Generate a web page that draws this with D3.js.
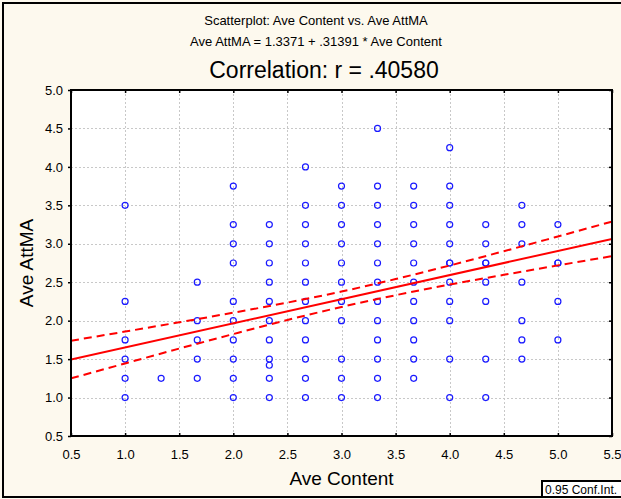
<!DOCTYPE html>
<html><head><meta charset="utf-8">
<script src="https://cdn.jsdelivr.net/npm/d3@7/dist/d3.min.js"></script>
<style>
html,body{margin:0;padding:0;background:#fdf9ee;}
svg{display:block;font-family:"Liberation Sans",Arial,sans-serif;}
</style></head>
<body>
<svg id="chart" width="621" height="499"></svg>
<script>
// ---- data ----
const titleLines = ["Scatterplot: Ave Content vs. Ave AttMA", "Ave AttMA = 1.3371 + .31391 * Ave Content"];
const corrTitle = "Correlation: r = .40580";
const xLabel = "Ave Content";
const yLabel = "Ave AttMA";
const legendText = "0.95 Conf.Int.";
const xTicks = [0.5,1.0,1.5,2.0,2.5,3.0,3.5,4.0,4.5,5.0,5.5];
const yTicks = [0.5,1.0,1.5,2.0,2.5,3.0,3.5,4.0,4.5,5.0];
const intercept = 1.3371, slope = 0.31391;
// scatter points: x (Ave Content) and y (Ave AttMA)
const ptX = [
 1,1,1,1,1,1,
 1.333,
 1.667,1.667,1.667,1.667,1.667,
 2,2,2,2,2,2,2,2,2,2,
 2.333,2.333,2.333,2.333,2.333,2.333,2.333,2.333,2.333,2.333,2.333,
 2.667,2.667,2.667,2.667,2.667,2.667,2.667,2.667,2.667,2.667,2.667,2.667,
 3,3,3,3,3,3,3,3,3,3,3,
 3.333,3.333,3.333,3.333,3.333,3.333,3.333,3.333,3.333,3.333,3.333,3.333,3.333,
 3.667,3.667,3.667,3.667,3.667,3.667,3.667,3.667,3.667,3.667,3.667,
 4,4,4,4,4,4,4,4,4,4,4,4,
 4.333,4.333,4.333,4.333,4.333,4.333,4.333,4.333,
 4.667,4.667,4.667,4.667,4.667,4.667,4.667,
 5,5,5,5,5
];
const ptY = [
 3.5,2.25,1.75,1.5,1.25,1.0,
 1.25,
 2.5,2.0,1.75,1.5,1.25,
 3.75,3.25,3.0,2.75,2.25,2.0,1.75,1.5,1.25,1.0,
 3.25,2.75,2.5,2.25,2.0,1.75,1.5,1.42,1.25,1.0,3.0,
 4.0,3.5,3.25,3.0,2.75,2.5,2.25,2.0,1.75,1.5,1.25,1.0,
 3.75,3.5,3.25,3.0,2.75,2.5,2.25,2.0,1.5,1.25,1.0,
 4.5,3.5,3.25,3.0,2.75,2.5,2.25,2.0,1.75,1.5,1.25,1.0,3.75,
 3.5,3.25,3.0,2.75,2.5,2.25,2.0,1.75,1.5,1.25,3.75,
 4.25,3.75,3.5,3.25,3.0,2.75,2.5,2.25,2.0,1.5,1.0,2.75,
 3.25,3.0,2.75,2.5,2.25,1.5,1.0,2.75,
 3.5,3.25,3.0,2.5,2.0,1.75,1.5,
 3.25,2.75,2.75,2.25,1.75
];
// confidence band
const bandX = [0.5,1.0,1.5,2.0,2.5,3.0,3.5,4.0,4.5,5.0,5.5];
const bandUpper = [1.739,1.858,1.979,2.104,2.235,2.379,2.541,2.717,2.903,3.095,3.289];
const bandLower = [1.249,1.444,1.637,1.826,2.009,2.178,2.331,2.469,2.596,2.719,2.839];

// ---- drawing ----
const svg = d3.select("#chart");
const L = 71, R = 612, T = 90, B = 436;
const x = d3.scaleLinear().domain([0.5,5.5]).range([L,R]);
const y = d3.scaleLinear().domain([0.5,5.0]).range([B,T]);

// outer border
svg.append("rect").attr("x",3).attr("y",3).attr("width",640).attr("height",494)
  .attr("fill","#fdf9ee").attr("stroke","#000").attr("stroke-width",2);

// titles
svg.append("text").attr("x",316).attr("y",25).attr("text-anchor","middle")
  .attr("font-size",13).text(titleLines[0]);
svg.append("text").attr("x",316).attr("y",46).attr("text-anchor","middle")
  .attr("font-size",13).text(titleLines[1]);
svg.append("text").attr("x",324).attr("y",78).attr("text-anchor","middle")
  .attr("font-size",23).text(corrTitle);

// plot background
svg.append("rect").attr("x",L).attr("y",T).attr("width",R-L).attr("height",B-T).attr("fill","#fff");

svg.append("clipPath").attr("id","pc").append("rect")
  .attr("x",L).attr("y",T).attr("width",R-L).attr("height",B-T);

// grid
const grid = svg.append("g").attr("stroke","#c8c8c8").attr("stroke-width",1).attr("stroke-dasharray","2,2");
grid.selectAll(".gx").data(xTicks.slice(1,-1)).join("line")
  .attr("x1",d=>Math.round(x(d))+0.5).attr("x2",d=>Math.round(x(d))+0.5).attr("y1",T).attr("y2",B);
grid.selectAll(".gy").data(yTicks.slice(1,-1)).join("line")
  .attr("y1",d=>Math.round(y(d))+0.5).attr("y2",d=>Math.round(y(d))+0.5).attr("x1",L).attr("x2",R);

// axes
const fmt = d3.format(".1f");
const ax = svg.append("g").attr("transform",`translate(0,${B})`)
  .call(d3.axisBottom(x).tickValues(xTicks).tickFormat(fmt).tickSizeInner(-3).tickSizeOuter(0).tickPadding(14));
const ay = svg.append("g").attr("transform",`translate(${L},0)`)
  .call(d3.axisLeft(y).tickValues(yTicks).tickFormat(fmt).tickSizeInner(3).tickSizeOuter(0).tickPadding(5));
const at = svg.append("g").attr("transform",`translate(0,${T})`)
  .call(d3.axisTop(x).tickValues(xTicks).tickFormat("").tickSizeInner(-3).tickSizeOuter(0));
const ar = svg.append("g").attr("transform",`translate(${R},0)`)
  .call(d3.axisRight(y).tickValues(yTicks).tickFormat("").tickSizeInner(-3).tickSizeOuter(0));
[ax,ay,at,ar].forEach(g=>{
  g.select(".domain").remove();
  g.selectAll(".tick line").attr("stroke","#000").attr("stroke-width",1.5);
  g.selectAll(".tick text").attr("font-size",13).attr("fill","#000")
    .attr("font-family","'Liberation Sans',Arial,sans-serif");
});

// scatter points
svg.append("g").attr("clip-path","url(#pc)").selectAll("circle").data(ptX.map((v,i)=>[v,ptY[i]])).join("circle")
  .attr("cx",d=>x(d[0])).attr("cy",d=>y(d[1])).attr("r",3)
  .attr("fill","none").attr("stroke","#1a1aff").attr("stroke-width",1.2);

// regression line and confidence band
const lg = svg.append("g").attr("clip-path","url(#pc)");
lg.append("line").attr("x1",x(0.5)).attr("x2",x(5.5))
  .attr("y1",y(intercept+slope*0.5)).attr("y2",y(intercept+slope*5.5))
  .attr("stroke","#ff0000").attr("stroke-width",2);
const bandLine = d3.line().x(d=>x(d[0])).y(d=>y(d[1])).curve(d3.curveMonotoneX);
[bandUpper,bandLower].forEach(arr=>{
  lg.append("path").attr("d",bandLine(bandX.map((v,i)=>[v,arr[i]])))
    .attr("fill","none").attr("stroke","#ff0000").attr("stroke-width",2).attr("stroke-dasharray","8,5");
});

// frame
svg.append("rect").attr("x",L).attr("y",T).attr("width",R-L).attr("height",B-T)
  .attr("fill","none").attr("stroke","#000").attr("stroke-width",2);

// axis titles
svg.append("text").attr("x",(L+R)/2).attr("y",485).attr("text-anchor","middle")
  .attr("font-size",19).text(xLabel);
svg.append("text").attr("transform",`translate(33,${(T+B)/2}) rotate(-90)`).attr("text-anchor","middle")
  .attr("font-size",19).text(yLabel);

// legend box
svg.append("rect").attr("x",542).attr("y",481).attr("width",82).attr("height",16)
  .attr("fill","#fff").attr("stroke","#000").attr("stroke-width",2);
svg.append("text").attr("x",545).attr("y",494).attr("font-size",12).text(legendText);
</script>
</body></html>
